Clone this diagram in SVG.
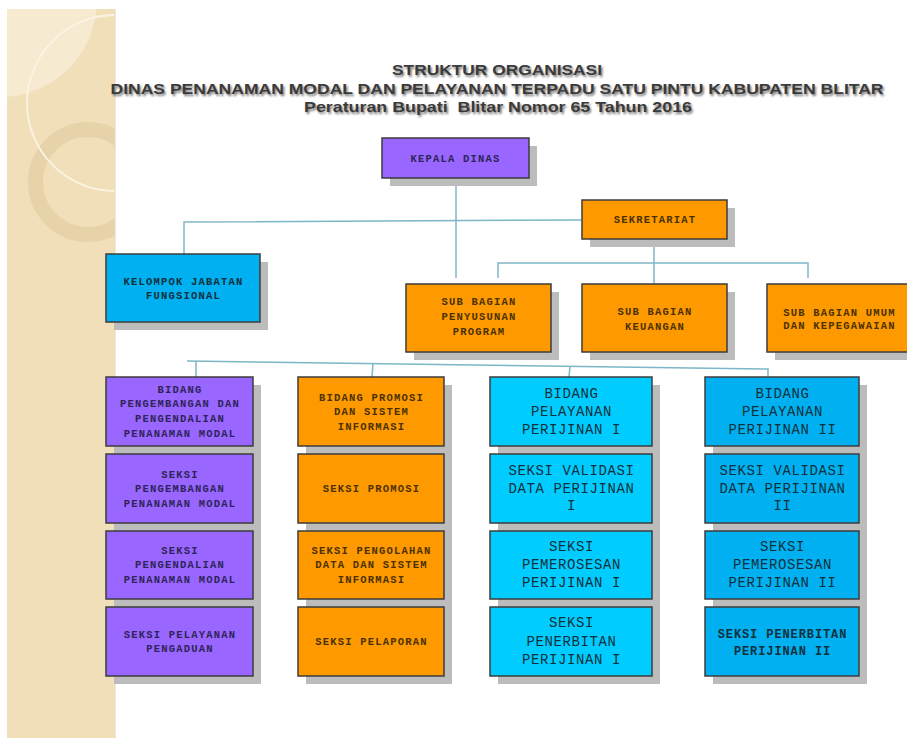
<svg xmlns="http://www.w3.org/2000/svg" width="907" height="738" viewBox="0 0 907 738">
<style>
.sh{fill:#bcbcbc}
.bx{stroke:#3d3d3d;stroke-width:1.5}
.pu{fill:#9966ff}
.or{fill:#ff9900}
.cy{fill:#00ccff}
.bl{fill:#00b0f0}
.s{font-family:"Liberation Mono","DejaVu Sans Mono",monospace;font-size:10.5px;font-weight:bold;letter-spacing:1.2px;text-anchor:middle}
.l{font-family:"Liberation Mono","DejaVu Sans Mono",monospace;font-size:14px;letter-spacing:0.6px;text-anchor:middle}
.m{font-family:"Liberation Mono","DejaVu Sans Mono",monospace;font-size:12px;font-weight:bold;letter-spacing:0.9px;text-anchor:middle}
.tp{fill:#2e2458}
.to{fill:#4a3200}
.tc{fill:#10303c}
.ttl{font-family:"Liberation Sans Narrow","Liberation Sans",sans-serif;font-weight:bold;font-size:15px;text-anchor:middle;fill:#3a3a3a}
.cn{fill:none;stroke:#7db6c6;stroke-width:1.5}
</style>
<defs>
<filter id="blur" x="-5%" y="-30%" width="110%" height="160%"><feGaussianBlur stdDeviation="1.3"/></filter>
<clipPath id="strip"><rect x="7" y="9" width="108" height="729"/></clipPath>
</defs>
<rect width="907" height="738" fill="#ffffff"/>
<g id="decor">
<rect x="7" y="9" width="108" height="729" fill="#f0dfb9"/>
<g clip-path="url(#strip)">
<circle cx="0" cy="0" r="97" fill="#f6ead0"/>
<circle cx="88" cy="182" r="52.5" fill="none" stroke="#e6d3aa" stroke-width="15"/>
<circle cx="115" cy="103" r="88" fill="none" stroke="#fbf4e4" stroke-width="1.8"/>
</g>
<line x1="115" y1="9" x2="115" y2="738" stroke="#e6d6b2" stroke-width="1"/>
</g>
<g id="title">
<g filter="url(#blur)">
<text class="ttl" x="498.5" y="76.5" textLength="210" lengthAdjust="spacingAndGlyphs" style="fill:#777">STRUKTUR ORGANISASI</text>
<text class="ttl" x="498.5" y="95.5" textLength="773" lengthAdjust="spacingAndGlyphs" style="fill:#777">DINAS PENANAMAN MODAL DAN PELAYANAN TERPADU SATU PINTU KABUPATEN BLITAR</text>
<text class="ttl" x="499.5" y="113.5" textLength="388" lengthAdjust="spacingAndGlyphs" style="fill:#777" xml:space="preserve">Peraturan Bupati  Blitar Nomor 65 Tahun 2016</text>
</g>
<text class="ttl" x="497" y="75" textLength="210" lengthAdjust="spacingAndGlyphs">STRUKTUR ORGANISASI</text>
<text class="ttl" x="497" y="94" textLength="773" lengthAdjust="spacingAndGlyphs">DINAS PENANAMAN MODAL DAN PELAYANAN TERPADU SATU PINTU KABUPATEN BLITAR</text>
<text class="ttl" x="498" y="112" textLength="388" lengthAdjust="spacingAndGlyphs" xml:space="preserve">Peraturan Bupati  Blitar Nomor 65 Tahun 2016</text>
</g>
<g id="connectors">
<line class="cn" x1="456" y1="178" x2="456" y2="278"/>
<path class="cn" d="M582,220 L184,222 L184,254"/>
<line class="cn" x1="654" y1="239" x2="654" y2="284"/>
<path class="cn" d="M498,278 L498,263 L808,263 L808,278"/>
<path class="cn" d="M187,361 L768,369 L768,377"/>
<line class="cn" x1="196" y1="361.2" x2="196" y2="377"/>
<line class="cn" x1="373" y1="363.5" x2="372" y2="377"/>
<line class="cn" x1="570" y1="366.3" x2="569" y2="377"/>
</g>
<g id="shadows">
<rect class="sh" x="390" y="146" width="147" height="40"/>
<rect class="sh" x="590" y="208" width="145" height="39"/>
<rect class="sh" x="114" y="262" width="154" height="68"/>
<rect class="sh" x="414" y="292" width="145" height="68"/>
<rect class="sh" x="590" y="292" width="145" height="68"/>
<rect class="sh" x="775" y="292" width="150" height="68"/>
<rect class="sh" x="114" y="385" width="147" height="299"/>
<rect class="sh" x="306" y="385" width="146" height="299"/>
<rect class="sh" x="498" y="385" width="162" height="299"/>
<rect class="sh" x="713" y="385" width="154" height="299"/>
</g>
<g id="kepala-dinas"><rect class="bx pu" x="382" y="138" width="147" height="40"/><text class="s tp" x="455.5" y="161.5">KEPALA DINAS</text></g>
<g id="sekretariat"><rect class="bx or" x="582" y="200" width="145" height="39"/><text class="s to" x="655" y="223">SEKRETARIAT</text></g>
<g id="kelompok-jabatan"><rect class="bx bl" x="106" y="254" width="154" height="68"/><text class="s tc" x="183.5" y="285">KELOMPOK JABATAN</text><text class="s tc" x="183.5" y="299">FUNGSIONAL</text></g>
<g id="sub-penyusunan"><rect class="bx or" x="406" y="284" width="145" height="68"/><text class="s to" x="479" y="304.5">SUB BAGIAN</text><text class="s to" x="479" y="319.5">PENYUSUNAN</text><text class="s to" x="479" y="334.5">PROGRAM</text></g>
<g id="sub-keuangan"><rect class="bx or" x="582" y="284" width="145" height="68"/><text class="s to" x="655" y="314.5">SUB BAGIAN</text><text class="s to" x="655" y="329.5">KEUANGAN</text></g>
<g id="sub-umum"><rect class="bx or" x="767" y="284" width="150" height="68"/><text class="s to" x="839.5" y="315.5">SUB BAGIAN UMUM</text><text class="s to" x="839.5" y="329">DAN KEPEGAWAIAN</text></g>
<g id="bidang-pengembangan"><rect class="bx pu" x="106" y="377" width="147" height="69"/><text class="s tp" x="180" y="392.5">BIDANG</text><text class="s tp" x="180" y="407">PENGEMBANGAN DAN</text><text class="s tp" x="180" y="421.5">PENGENDALIAN</text><text class="s tp" x="180" y="436.5">PENANAMAN MODAL</text></g>
<g id="seksi-pengembangan"><rect class="bx pu" x="106" y="454" width="147" height="69"/><text class="s tp" x="180" y="477.5">SEKSI</text><text class="s tp" x="180" y="492">PENGEMBANGAN</text><text class="s tp" x="180" y="506.5">PENANAMAN MODAL</text></g>
<g id="seksi-pengendalian"><rect class="bx pu" x="106" y="531" width="147" height="68"/><text class="s tp" x="180" y="553.5">SEKSI</text><text class="s tp" x="180" y="568">PENGENDALIAN</text><text class="s tp" x="180" y="583">PENANAMAN MODAL</text></g>
<g id="seksi-pengaduan"><rect class="bx pu" x="106" y="607" width="147" height="69"/><text class="s tp" x="180" y="637.5">SEKSI PELAYANAN</text><text class="s tp" x="180" y="651.5">PENGADUAN</text></g>
<g id="bidang-promosi"><rect class="bx or" x="298" y="377" width="146" height="69"/><text class="s to" x="371.5" y="400.5">BIDANG PROMOSI</text><text class="s to" x="371.5" y="414.5">DAN SISTEM</text><text class="s to" x="371.5" y="429.5">INFORMASI</text></g>
<g id="seksi-promosi"><rect class="bx or" x="298" y="454" width="146" height="69"/><text class="s to" x="371.5" y="491.5">SEKSI PROMOSI</text></g>
<g id="seksi-pengolahan"><rect class="bx or" x="298" y="531" width="146" height="68"/><text class="s to" x="371.5" y="553.5">SEKSI PENGOLAHAN</text><text class="s to" x="371.5" y="568">DATA DAN SISTEM</text><text class="s to" x="371.5" y="583">INFORMASI</text></g>
<g id="seksi-pelaporan"><rect class="bx or" x="298" y="607" width="146" height="69"/><text class="s to" x="371.5" y="644.5">SEKSI PELAPORAN</text></g>
<g id="bidang-perijinan-1"><rect class="bx cy" x="490" y="377" width="162" height="69"/><text class="l tc" x="571.5" y="397.5">BIDANG</text><text class="l tc" x="571.5" y="415.5">PELAYANAN</text><text class="l tc" x="571.5" y="433.5">PERIJINAN I</text></g>
<g id="validasi-1"><rect class="bx cy" x="490" y="454" width="162" height="69"/><text class="l tc" x="571.5" y="474.5">SEKSI VALIDASI</text><text class="l tc" x="571.5" y="492.5">DATA PERIJINAN</text><text class="l tc" x="571.5" y="510">I</text></g>
<g id="pemerosesan-1"><rect class="bx cy" x="490" y="531" width="162" height="68"/><text class="l tc" x="571.5" y="550.5">SEKSI</text><text class="l tc" x="571.5" y="568.5">PEMEROSESAN</text><text class="l tc" x="571.5" y="586.5">PERIJINAN I</text></g>
<g id="penerbitan-1"><rect class="bx cy" x="490" y="607" width="162" height="69"/><text class="l tc" x="571.5" y="626.5">SEKSI</text><text class="l tc" x="571.5" y="645.5">PENERBITAN</text><text class="l tc" x="571.5" y="663.5">PERIJINAN I</text></g>
<g id="bidang-perijinan-2"><rect class="bx bl" x="705" y="377" width="154" height="69"/><text class="l tc" x="782.5" y="397.5">BIDANG</text><text class="l tc" x="782.5" y="415.5">PELAYANAN</text><text class="l tc" x="782.5" y="433.5">PERIJINAN II</text></g>
<g id="validasi-2"><rect class="bx bl" x="705" y="454" width="154" height="69"/><text class="l tc" x="782.5" y="474.5">SEKSI VALIDASI</text><text class="l tc" x="782.5" y="492.5">DATA PERIJINAN</text><text class="l tc" x="782.5" y="510">II</text></g>
<g id="pemerosesan-2"><rect class="bx bl" x="705" y="531" width="154" height="68"/><text class="l tc" x="782.5" y="550.5">SEKSI</text><text class="l tc" x="782.5" y="568.5">PEMEROSESAN</text><text class="l tc" x="782.5" y="586.5">PERIJINAN II</text></g>
<g id="penerbitan-2"><rect class="bx bl" x="705" y="607" width="154" height="69"/><text class="m tc" x="782.5" y="638">SEKSI PENERBITAN</text><text class="m tc" x="782.5" y="655">PERIJINAN II</text></g>
</svg>
